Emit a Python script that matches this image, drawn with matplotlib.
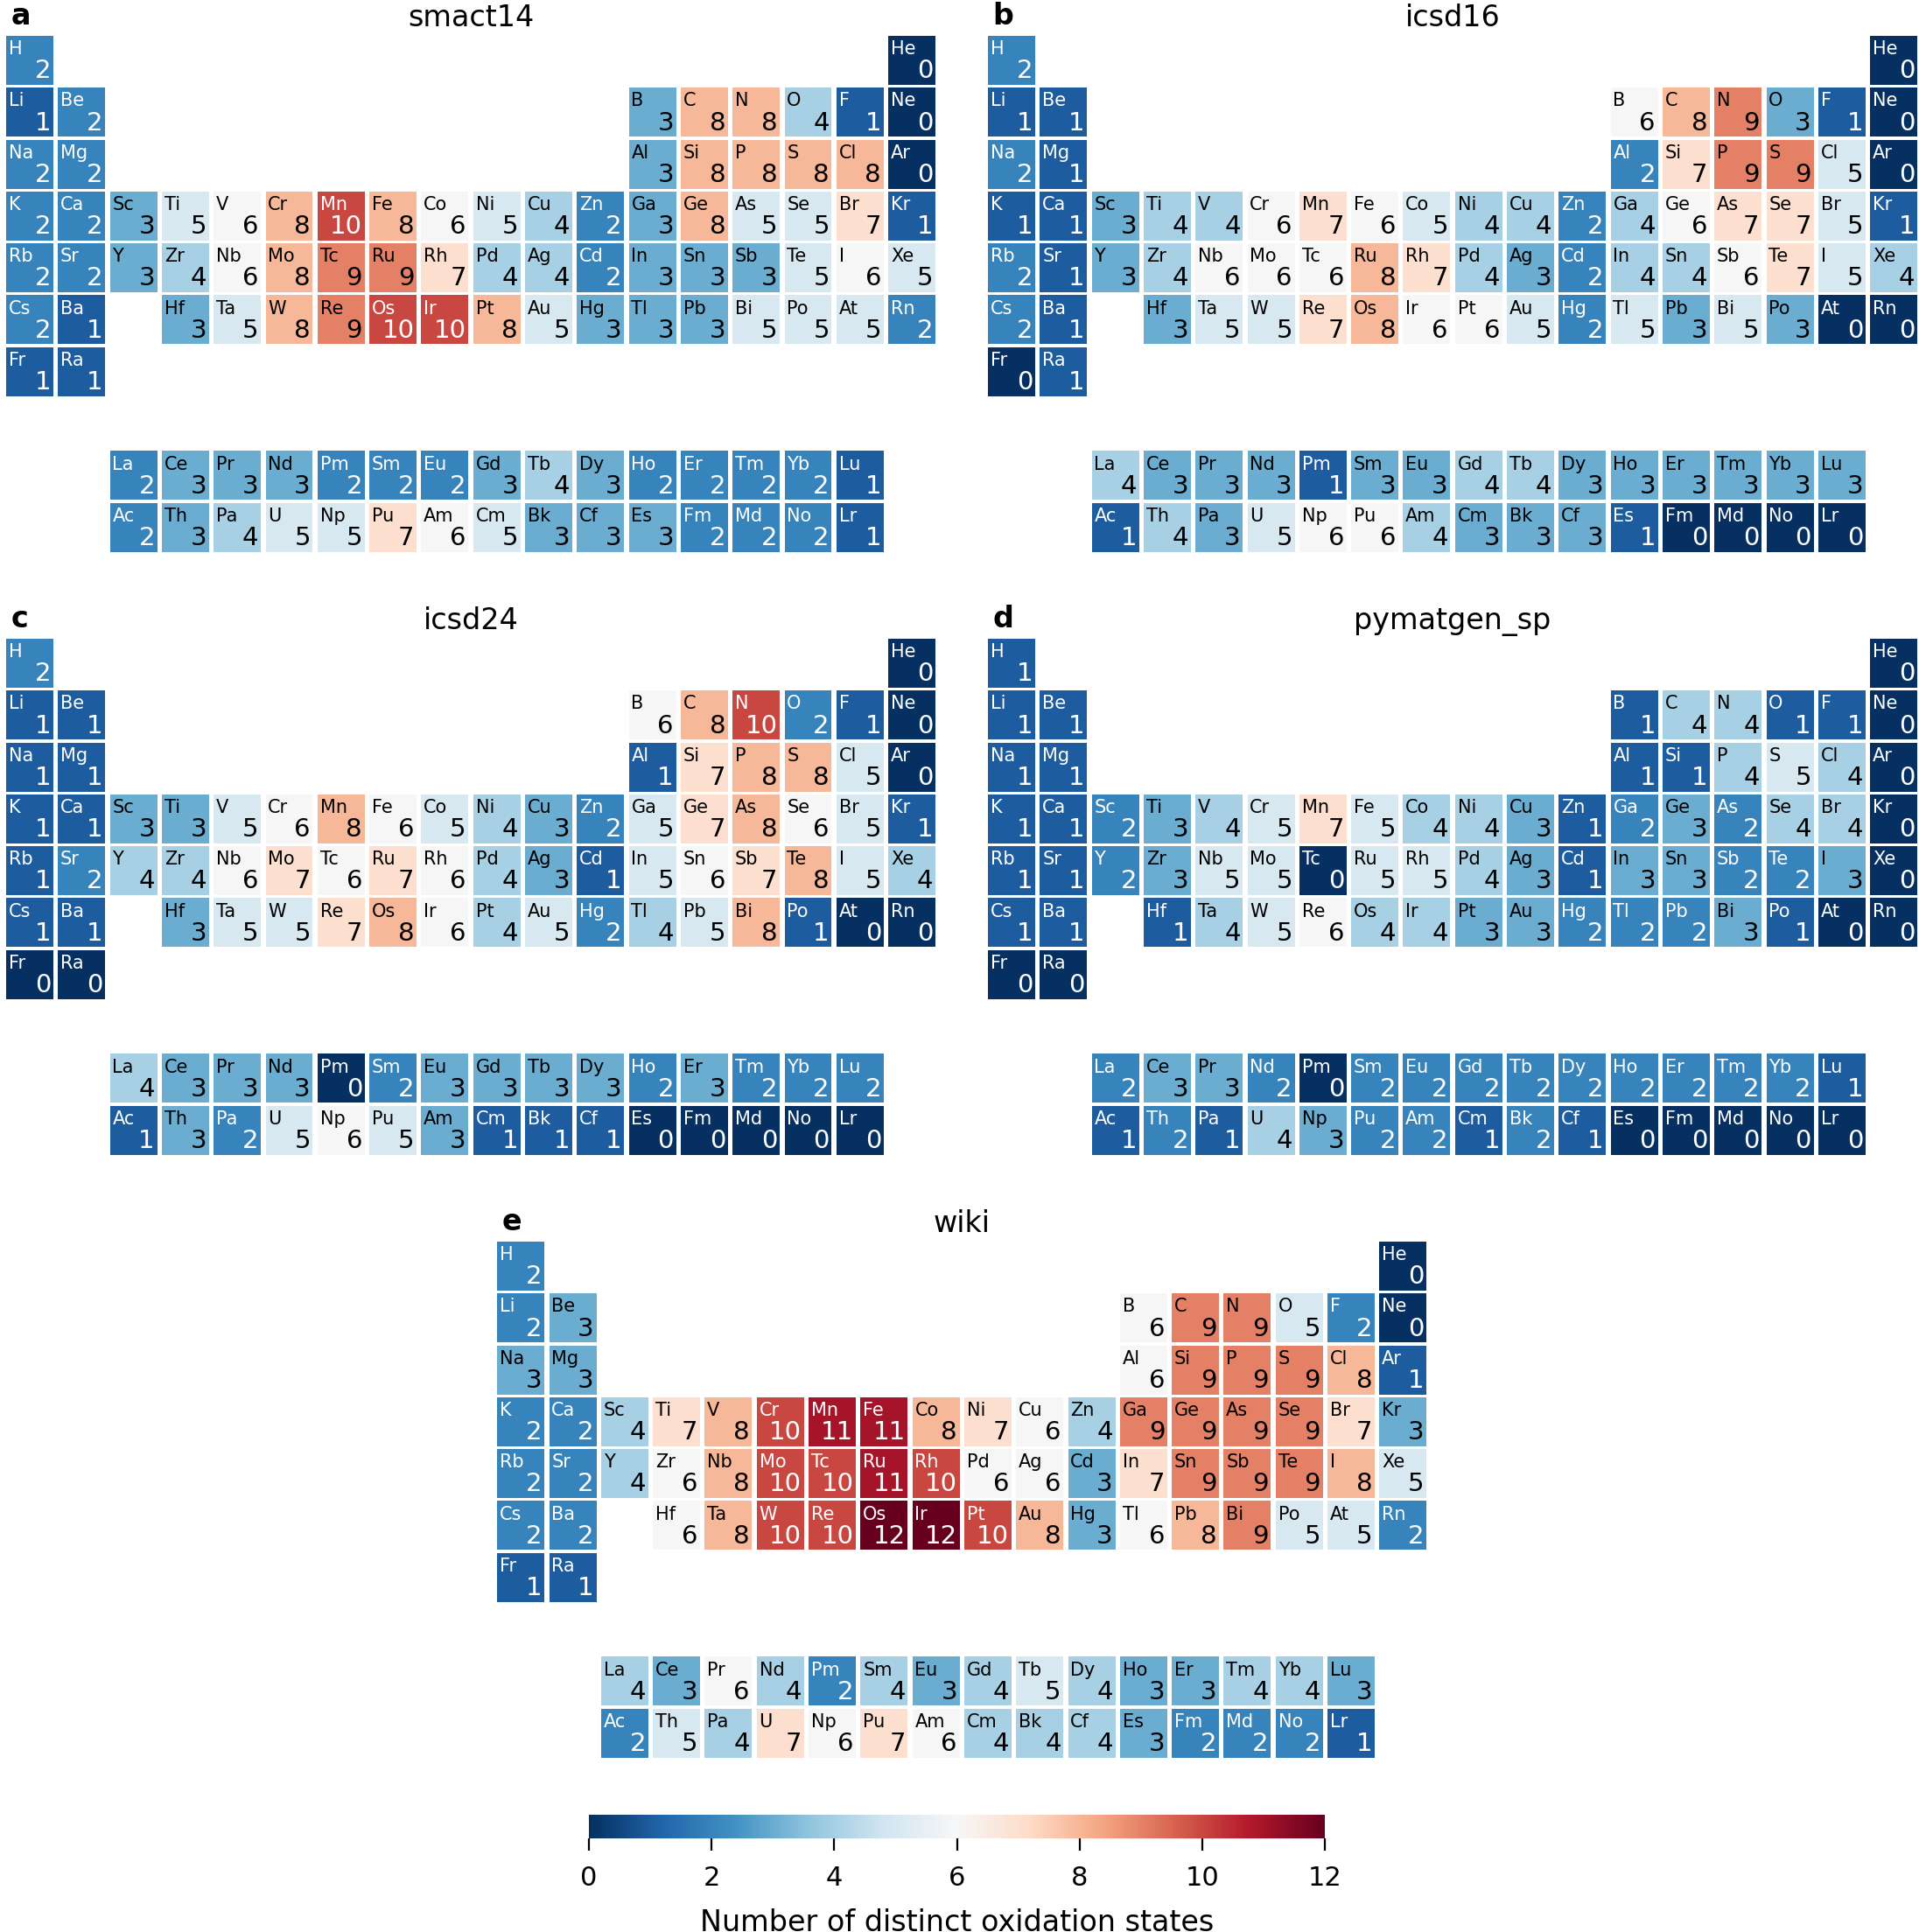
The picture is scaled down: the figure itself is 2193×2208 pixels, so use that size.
import numpy as np
import matplotlib
matplotlib.use("Agg")
import matplotlib.pyplot as plt
from matplotlib.patches import Rectangle
from matplotlib.colors import Normalize
from matplotlib.cm import ScalarMappable

# ---------------- data ----------------
elements = [
    "H", "He", "Li", "Be", "B", "C", "N", "O", "F", "Ne",
    "Na", "Mg", "Al", "Si", "P", "S", "Cl", "Ar",
    "K", "Ca", "Sc", "Ti", "V", "Cr", "Mn", "Fe", "Co", "Ni", "Cu", "Zn",
    "Ga", "Ge", "As", "Se", "Br", "Kr",
    "Rb", "Sr", "Y", "Zr", "Nb", "Mo", "Tc", "Ru", "Rh", "Pd", "Ag", "Cd",
    "In", "Sn", "Sb", "Te", "I", "Xe",
    "Cs", "Ba", "La", "Ce", "Pr", "Nd", "Pm", "Sm", "Eu", "Gd", "Tb", "Dy",
    "Ho", "Er", "Tm", "Yb", "Lu",
    "Hf", "Ta", "W", "Re", "Os", "Ir", "Pt", "Au", "Hg", "Tl", "Pb", "Bi",
    "Po", "At", "Rn",
    "Fr", "Ra", "Ac", "Th", "Pa", "U", "Np", "Pu", "Am", "Cm", "Bk", "Cf",
    "Es", "Fm", "Md", "No", "Lr",
]

smact14 = [
    2, 0, 1, 2, 3, 8, 8, 4, 1, 0,
    2, 2, 3, 8, 8, 8, 8, 0,
    2, 2, 3, 5, 6, 8, 10, 8, 6, 5, 4, 2, 3, 8, 5, 5, 7, 1,
    2, 2, 3, 4, 6, 8, 9, 9, 7, 4, 4, 2, 3, 3, 3, 5, 6, 5,
    2, 1, 2, 3, 3, 3, 2, 2, 2, 3, 4, 3, 2, 2, 2, 2, 1,
    3, 5, 8, 9, 10, 10, 8, 5, 3, 3, 3, 5, 5, 5, 2,
    1, 1, 2, 3, 4, 5, 5, 7, 6, 5, 3, 3, 3, 2, 2, 2, 1,
]

icsd16 = [
    2, 0, 1, 1, 6, 8, 9, 3, 1, 0,
    2, 1, 2, 7, 9, 9, 5, 0,
    1, 1, 3, 4, 4, 6, 7, 6, 5, 4, 4, 2, 4, 6, 7, 7, 5, 1,
    2, 1, 3, 4, 6, 6, 6, 8, 7, 4, 3, 2, 4, 4, 6, 7, 5, 4,
    2, 1, 4, 3, 3, 3, 1, 3, 3, 4, 4, 3, 3, 3, 3, 3, 3,
    3, 5, 5, 7, 8, 6, 6, 5, 2, 5, 3, 5, 3, 0, 0,
    0, 1, 1, 4, 3, 5, 6, 6, 4, 3, 3, 3, 1, 0, 0, 0, 0,
]

icsd24 = [
    2, 0, 1, 1, 6, 8, 10, 2, 1, 0,
    1, 1, 1, 7, 8, 8, 5, 0,
    1, 1, 3, 3, 5, 6, 8, 6, 5, 4, 3, 2, 5, 7, 8, 6, 5, 1,
    1, 2, 4, 4, 6, 7, 6, 7, 6, 4, 3, 1, 5, 6, 7, 8, 5, 4,
    1, 1, 4, 3, 3, 3, 0, 2, 3, 3, 3, 3, 2, 3, 2, 2, 2,
    3, 5, 5, 7, 8, 6, 4, 5, 2, 4, 5, 8, 1, 0, 0,
    0, 0, 1, 3, 2, 5, 6, 5, 3, 1, 1, 1, 0, 0, 0, 0, 0,
]

pymatgen_sp = [
    1, 0, 1, 1, 1, 4, 4, 1, 1, 0,
    1, 1, 1, 1, 4, 5, 4, 0,
    1, 1, 2, 3, 4, 5, 7, 5, 4, 4, 3, 1, 2, 3, 2, 4, 4, 0,
    1, 1, 2, 3, 5, 5, 0, 5, 5, 4, 3, 1, 3, 3, 2, 2, 3, 0,
    1, 1, 2, 3, 3, 2, 0, 2, 2, 2, 2, 2, 2, 2, 2, 2, 1,
    1, 4, 5, 6, 4, 4, 3, 3, 2, 2, 2, 3, 1, 0, 0,
    0, 0, 1, 2, 1, 4, 3, 2, 2, 1, 2, 1, 0, 0, 0, 0, 0,
]

wiki = [
    2, 0, 2, 3, 6, 9, 9, 5, 2, 0,
    3, 3, 6, 9, 9, 9, 8, 1,
    2, 2, 4, 7, 8, 10, 11, 11, 8, 7, 6, 4, 9, 9, 9, 9, 7, 3,
    2, 2, 4, 6, 8, 10, 10, 11, 10, 6, 6, 3, 7, 9, 9, 9, 8, 5,
    2, 2, 4, 3, 6, 4, 2, 4, 3, 4, 5, 4, 3, 3, 4, 4, 3,
    6, 8, 10, 10, 12, 12, 10, 8, 3, 6, 8, 9, 5, 5, 2,
    1, 1, 2, 5, 4, 7, 6, 7, 6, 4, 4, 4, 3, 2, 2, 2, 1,
]

panel_labels = ["a", "b", "c", "d", "e"]
panel_titles = ["smact14", "icsd16", "icsd24", "pymatgen_sp", "wiki"]
panel_values = [smact14, icsd16, icsd24, pymatgen_sp, wiki]
cbar_ticks = [0, 2, 4, 6, 8, 10, 12]
cbar_label = "Number of distinct oxidation states"


# ---------------- layout helpers ----------------
def table_position(z):
    """(row, col) of element with atomic number z in the periodic table grid."""
    if z == 1:
        return 0, 0
    if z == 2:
        return 0, 17
    if 3 <= z <= 4:
        return 1, z - 3
    if 5 <= z <= 10:
        return 1, z - 5 + 12
    if 11 <= z <= 12:
        return 2, z - 11
    if 13 <= z <= 18:
        return 2, z - 13 + 12
    if 19 <= z <= 36:
        return 3, z - 19
    if 37 <= z <= 54:
        return 4, z - 37
    if 55 <= z <= 56:
        return 5, z - 55
    if 57 <= z <= 71:
        return 8, z - 57 + 2
    if 72 <= z <= 86:
        return 5, z - 72 + 3
    if 87 <= z <= 88:
        return 6, z - 87
    return 9, z - 89 + 2


W, H = 2193, 2208
fig = plt.figure(figsize=(W / 100, H / 100), dpi=100)

pitch = 59.3
ax_w, ax_h = 18 * pitch, 10 * pitch
panel_origins = [(4.35, 39.3), (1126.4, 39.3), (4.35, 728.3), (1126.4, 728.3), (565.6, 1417.3)]

cmap = plt.get_cmap("RdBu_r")
norm = Normalize(vmin=0, vmax=12)

cw, ch = 0.91, 0.944

for label, title, values, (lx, ty) in zip(panel_labels, panel_titles, panel_values, panel_origins):
    ax = fig.add_axes([lx / W, 1 - (ty + ax_h) / H, ax_w / W, ax_h / H])
    ax.set_xlim(0, 18)
    ax.set_ylim(10, 0)
    ax.axis("off")
    for z, (sym, v) in enumerate(zip(elements, values), start=1):
        r, c = table_position(z)
        col = cmap(norm(v))
        ax.add_patch(Rectangle((c + (1 - cw) / 2, r + (1 - ch) / 2), cw, ch,
                               facecolor=col, edgecolor="none"))
        lum = 0.299 * col[0] + 0.587 * col[1] + 0.114 * col[2]
        tc = "white" if lum < 0.5 else "black"
        ax.text(c + 0.092, r + 0.115, sym, ha="left", va="top", fontsize=15, color=tc)
        ax.text(c + 0.91, r + 0.843, str(v), ha="right", va="baseline", fontsize=21, color=tc)
    ax.set_title(title, fontsize=24, pad=7)
    ax.text(0.0075, 1.0 + 11 / ax_h, label, transform=ax.transAxes, fontsize=24,
            fontweight="bold", ha="left", va="baseline")

# colorbar
cax = fig.add_axes([673 / W, 1 - 2101 / H, (1514 - 673) / W, 27 / H])
sm = ScalarMappable(norm=norm, cmap=cmap)
cb = fig.colorbar(sm, cax=cax, orientation="horizontal", ticks=cbar_ticks)
cb.outline.set_visible(False)
cb.ax.tick_params(length=10, width=1.6, labelsize=22, pad=12)
cb.set_label(cbar_label, fontsize=24, labelpad=15)

fig.savefig("out.png", dpi=100)
